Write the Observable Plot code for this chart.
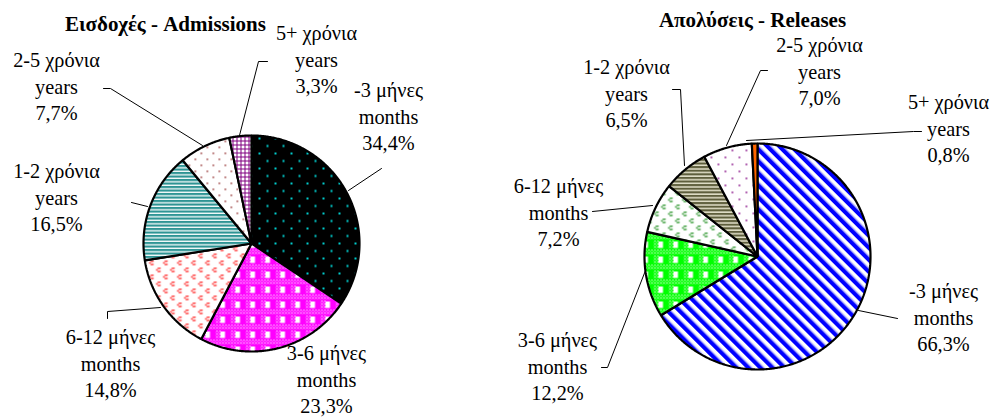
<!DOCTYPE html>
<html><head><meta charset="utf-8">
<script src="https://cdn.jsdelivr.net/npm/d3@7"></script>
<script src="https://cdn.jsdelivr.net/npm/@observablehq/plot@0.6"></script>
<style>
html,body{margin:0;padding:0;background:#fff;}
#row{display:flex;width:997px;height:417px;overflow:hidden;}
#row svg{display:block;flex:none;}
</style></head><body><div id="row"></div>
<script>
// ---- data ----
const categoriesGr = ["-3 μήνες", "3-6 μήνες", "6-12 μήνες", "1-2 χρόνια", "2-5 χρόνια", "5+ χρόνια"];
const categoriesEn = ["months", "months", "months", "years", "years", "years"];
const admissions = [34.4, 23.3, 14.8, 16.5, 7.7, 3.3];
const releases = [66.3, 12.2, 7.2, 6.5, 7.0, 0.8];
const titleAdmissions = "Εισδοχές - Admissions";
const titleReleases = "Απολύσεις - Releases";

// ---- layout (page pixels) ----
const FONT = "Liberation Serif";
const FS = 20.3, LH = 1.31, TFS = 21;
const layoutLeft = {
  ox: 0, width: 498, cx: 251, cy: 243, r: 108,
  title: [165, 30.5],
  labels: [[388, 123], [326, 386], [110, 370], [56, 204], [56, 93], [316, 66]],
  leaders: [
    [[348, 190], [381, 168]],
    null,
    [[107, 318], [107, 311], [160, 307]],
    [[131, 202], [147, 206]],
    [[103, 88], [110, 88], [202, 145]],
    [[267, 61], [258, 61], [239, 135]]
  ],
  fills: ["url(#pL0)", "url(#pL1)", "url(#pL2)", "url(#pL3)", "url(#pL4)", "url(#pL5)"]
};
const layoutRight = {
  ox: 498, width: 499, cx: 757, cy: 256, r: 113,
  title: [752, 26.7],
  labels: [[943, 324], [557, 373], [558, 219], [626, 100], [819, 78], [948, 135]],
  leaders: [
    [[858, 310], [897, 318]],
    [[601, 367], [607, 367], [645, 270]],
    [[592, 211], [652, 205]],
    [[672, 89], [680, 89], [684, 165]],
    [[767, 70], [760, 70], [726, 145]],
    [[746, 140], [913, 131], [921, 131]]
  ],
  fills: ["url(#pR0)", "url(#pR1)", "url(#pR2)", "url(#pR3)", "url(#pR4)", "#FF6600"]
};

const chev = (x, y) => `<rect x="${x+2.2}" y="${y}" width="1.6" height="1.6"/><rect x="${x+0.6}" y="${y+1.6}" width="1.6" height="1.6"/><rect x="${x+2.2}" y="${y+3.2}" width="1.6" height="1.6"/><rect x="${x+3.8}" y="${y+3.2}" width="1.4" height="1.4"/><rect x="${x+3.8}" y="${y}" width="1.4" height="1.4"/>`;

const plaid = (id, chk, col) => `
<pattern id="${chk}" patternUnits="userSpaceOnUse" width="3" height="3">
 <rect width="3" height="3" fill="${col}"/><rect width="1" height="1" fill="#fff"/><rect x="1.5" y="1.5" width="1" height="1" fill="#fff"/>
</pattern>
<pattern id="${id}" patternUnits="userSpaceOnUse" width="15" height="15">
 <rect width="15" height="15" fill="${col}"/>
 <rect x="5" y="0" width="5" height="8" fill="url(#${chk})"/>
 <rect x="10" y="1" width="4.5" height="6.5" fill="#fff"/>
 <rect x="0" y="9" width="15" height="5" fill="url(#${chk})"/>
</pattern>`;

const patterns = `
<pattern id="pL0" patternUnits="userSpaceOnUse" width="16" height="15">
 <rect width="16" height="15" fill="#000"/>
 <rect x="2" y="2" width="2" height="2" fill="#00CCCC"/>
 <rect x="10" y="9.5" width="2" height="2" fill="#00CCCC"/>
</pattern>
${plaid("pL1", "chkM", "#FF00FF")}
<pattern id="pL2" patternUnits="userSpaceOnUse" width="14" height="14">
 <rect width="14" height="14" fill="#fff"/>
 <g fill="#FF3333">${chev(1, 1)}${chev(8, 8)}</g>
</pattern>
<pattern id="pL3" patternUnits="userSpaceOnUse" width="4" height="3.5">
 <rect width="4" height="3.5" fill="#fff"/>
 <rect width="4" height="2.2" fill="#2E9494"/>
 <rect y="2.2" width="4" height="0.5" fill="#9CCFCF"/>
</pattern>
<pattern id="pL4" patternUnits="userSpaceOnUse" width="12" height="12">
 <rect width="12" height="12" fill="#fff"/>
 <rect x="2" y="2" width="1.6" height="1.6" fill="#A04848"/>
 <rect x="8" y="8" width="1.6" height="1.6" fill="#A04848"/>
</pattern>
<pattern id="pL5" patternUnits="userSpaceOnUse" width="4" height="4">
 <rect width="4" height="4" fill="#800080"/>
 <rect x="1" y="1" width="3" height="3" fill="#fff"/>
</pattern>
<pattern id="pR0" patternUnits="userSpaceOnUse" width="8.5" height="8.5" patternTransform="rotate(-45)">
 <rect width="8.5" height="8.5" fill="#fff"/>
 <rect width="4.2" height="8.5" fill="#0000FF"/>
 <rect x="4.2" width="0.8" height="8.5" fill="#8080FF"/>
</pattern>
${plaid("pR1", "chkG", "#00FF00")}
<pattern id="pR2" patternUnits="userSpaceOnUse" width="14" height="14">
 <rect width="14" height="14" fill="#fff"/>
 <g fill="#339933">${chev(1, 1)}${chev(8, 8)}</g>
</pattern>
<pattern id="pR3" patternUnits="userSpaceOnUse" width="4" height="3.6">
 <rect width="4" height="3.6" fill="#E4E2CC"/>
 <rect width="4" height="2.1" fill="#5E5E3C"/>
</pattern>
<pattern id="pR4" patternUnits="userSpaceOnUse" width="14" height="14">
 <rect width="14" height="14" fill="#fff"/>
 <rect x="2" y="2" width="1.8" height="1.8" fill="#A040A0"/>
 <rect x="9" y="9" width="1.8" height="1.8" fill="#A040A0"/>
</pattern>`;

const pct = v => v.toFixed(1).replace(".", ",") + "%";

function slices(values) {
  const total = d3.sum(values);
  let acc = 0;
  return values.map((v, i) => {
    const a0 = acc / total * 2 * Math.PI;
    acc += v;
    const a1 = acc / total * 2 * Math.PI;
    const n = Math.max(2, Math.ceil((a1 - a0) / (Math.PI / 360)));
    const pts = [{x: 0, y: 0}];
    for (let k = 0; k <= n; ++k) {
      const t = a0 + (a1 - a0) * k / n;
      pts.push({x: Math.sin(t), y: Math.cos(t)});
    }
    return pts;
  });
}

function pie(values, title, L) {
  const H = 417;
  const cx = L.cx - L.ox;
  const toX = px => (px - L.cx) / L.r;
  const toY = py => (L.cy - py) / L.r;
  const marks = [];
  slices(values).forEach((pts, i) => {
    marks.push(Plot.line(pts, {x: "x", y: "y", curve: "linear-closed", fill: L.fills[i], stroke: "black", strokeWidth: 2.2, strokeLinejoin: "miter"}));
  });
  L.leaders.forEach(ld => {
    if (!ld) return;
    marks.push(Plot.line(ld.map(([px, py]) => ({x: toX(px), y: toY(py)})), {x: "x", y: "y", stroke: "black", strokeWidth: 1}));
  });
  const labelData = values.map((v, i) => ({
    text: categoriesGr[i] + "\n" + categoriesEn[i] + "\n" + pct(v),
    x: toX(L.labels[i][0]),
    y: toY(L.labels[i][1] + LH * FS)
  }));
  marks.push(Plot.text(labelData, {x: "x", y: "y", text: "text", fontSize: FS, lineHeight: LH, lineAnchor: "bottom", textAnchor: "middle", fill: "black", fontFamily: FONT}));
  marks.push(Plot.text([{x: toX(L.title[0]), y: toY(L.title[1]), t: title}], {x: "x", y: "y", text: "t", fontSize: TFS, fontWeight: "bold", lineHeight: 1, lineAnchor: "bottom", textAnchor: "middle", fill: "black", fontFamily: FONT}));
  const svg = Plot.plot({
    width: L.width, height: H, margin: 0,
    style: {fontFamily: FONT, background: "white", overflow: "visible"},
    x: {domain: [-cx / L.r, (L.width - cx) / L.r], range: [0, L.width], axis: null},
    y: {domain: [-(H - L.cy) / L.r, L.cy / L.r], range: [H, 0], axis: null},
    marks
  });
  d3.select(svg).insert("defs", ":first-child").html(patterns);
  return svg;
}

const row = document.getElementById("row");
row.appendChild(pie(admissions, titleAdmissions, layoutLeft));
row.appendChild(pie(releases, titleReleases, layoutRight));
</script>
</body></html>
